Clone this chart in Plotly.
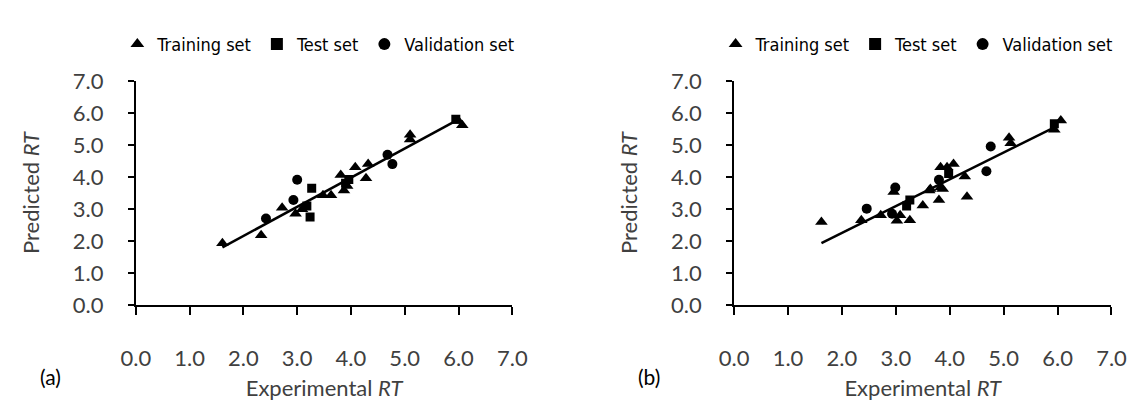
import plotly.graph_objects as go

# ---------------- data: panel (a) ----------------
a_train_x = [1.61, 2.33, 2.72, 2.97, 3.09, 3.48, 3.63, 3.81, 3.87, 3.93, 4.08, 4.28, 4.32, 5.10, 5.10, 6.07, 6.00]
a_train_y = [1.93, 2.18, 3.04, 2.85, 2.99, 3.43, 3.43, 4.06, 3.58, 3.72, 4.30, 3.96, 4.40, 5.32, 5.17, 5.61, 5.75]
a_test_x = [3.27, 3.18, 3.24, 3.96, 3.90, 5.95]
a_test_y = [3.65, 3.09, 2.75, 3.92, 3.80, 5.80]
a_val_x = [2.42, 2.93, 3.00, 4.68, 4.77]
a_val_y = [2.70, 3.28, 3.91, 4.69, 4.40]
a_trend_x = [1.61, 6.00]
a_trend_y = [1.80, 5.80]

# ---------------- data: panel (b) ----------------
b_train_x = [1.62, 2.36, 2.72, 2.96, 3.02, 3.08, 3.26, 3.50, 3.62, 3.80, 3.64, 3.83, 3.87, 3.83, 3.95, 4.07, 4.28, 4.32, 5.10, 5.13, 6.06, 5.94]
b_train_y = [2.59, 2.65, 2.80, 3.53, 2.63, 2.80, 2.65, 3.11, 3.58, 3.28, 3.62, 3.67, 3.62, 4.30, 4.30, 4.40, 4.01, 3.38, 5.22, 5.05, 5.76, 5.47]
b_test_x = [3.26, 3.20, 3.98, 5.94]
b_test_y = [3.28, 3.09, 4.11, 5.66]
b_val_x = [2.46, 2.93, 2.99, 3.80, 4.68, 4.76]
b_val_y = [3.01, 2.85, 3.67, 3.91, 4.18, 4.95]
b_trend_x = [1.62, 5.94]
b_trend_y = [1.93, 5.55]

tick_vals = [0, 1, 2, 3, 4, 5, 6, 7]
tick_text = ["0.0", "1.0", "2.0", "3.0", "4.0", "5.0", "6.0", "7.0"]
series_names = ["Training set", "Test set", "Validation set"]
panel_labels = ["(a)", "(b)"]

W, H = 1137, 410
BASE = "Lato, Carlito, Calibri, sans-serif"
TICK_FONT = dict(family=BASE, size=22, color="#404040")
TITLE_FONT = dict(family=BASE, size=22, color="#404040")
LEG_FONT = dict(family="Liberation Sans Narrow, DejaVu Sans Condensed, Arial Narrow, Liberation Sans, sans-serif",
                size=18, color="#000000")

fig = go.Figure()

panels = [
    (a_train_x, a_train_y, a_test_x, a_test_y, a_val_x, a_val_y, a_trend_x, a_trend_y, "x", "y", "legend"),
    (b_train_x, b_train_y, b_test_x, b_test_y, b_val_x, b_val_y, b_trend_x, b_trend_y, "x2", "y2", "legend2"),
]
for (tx, ty, sx, sy, vx, vy, lx, ly, xa, ya, lg) in panels:
    fig.add_trace(go.Scatter(x=lx, y=ly, mode="lines", line=dict(color="black", width=2.5),
                             xaxis=xa, yaxis=ya, showlegend=False, hoverinfo="skip"))
    fig.add_trace(go.Scatter(x=tx, y=ty, mode="markers", name=series_names[0],
                             marker=dict(symbol="triangle-up", size=11, color="black"),
                             xaxis=xa, yaxis=ya, legend=lg))
    fig.add_trace(go.Scatter(x=sx, y=sy, mode="markers", name=series_names[1],
                             marker=dict(symbol="square", size=9, color="black"),
                             xaxis=xa, yaxis=ya, legend=lg))
    fig.add_trace(go.Scatter(x=vx, y=vy, mode="markers", name=series_names[2],
                             marker=dict(symbol="circle", size=10, color="black"),
                             xaxis=xa, yaxis=ya, legend=lg))

x_domains = [[116 / W, 503 / W], [731 / W, 1119 / W]]
y_domain = [(H - 303) / H, (H - 63) / H]

axis_common = dict(range=[0, 7], tickvals=tick_vals, ticktext=tick_text, showgrid=False,
                   zeroline=False, showline=True, linecolor="black", linewidth=2,
                   ticks="outside", tickcolor="black", tickwidth=2, tickfont=TICK_FONT,
                   fixedrange=True)

def xax(dom, anchor):
    return dict(domain=dom, anchor=anchor, ticklen=8, ticklabelstandoff=25,
                title=dict(text="Experimental <i>RT</i>", font=TITLE_FONT, standoff=10),
                **axis_common)

def yax(anchor):
    return dict(domain=y_domain, anchor=anchor, ticklen=6, ticklabelstandoff=20,
                title=dict(text="Predicted <i>RT</i>", font=TITLE_FONT, standoff=27),
                **axis_common)

fig.update_layout(
    width=W, height=H, margin=dict(l=0, r=0, t=0, b=0),
    paper_bgcolor="white", plot_bgcolor="white", showlegend=True,
    xaxis=xax(x_domains[0], "y"),
    yaxis=yax("x"),
    xaxis2=xax(x_domains[1], "y2"),
    yaxis2=yax("x2"),
    legend=dict(orientation="h", x=97 / W, xanchor="left", y=1 - 24 / H, yanchor="middle",
                font=LEG_FONT, itemwidth=30, itemsizing="constant", bgcolor="rgba(0,0,0,0)"),
    legend2=dict(orientation="h", x=712 / W, xanchor="left", y=1 - 24 / H, yanchor="middle",
                 font=LEG_FONT, itemwidth=30, itemsizing="constant", bgcolor="rgba(0,0,0,0)"),
    annotations=[
        dict(text=panel_labels[0], x=15 / W, y=1 - 380 / H, xref="paper", yref="paper",
             xanchor="left", yanchor="middle", showarrow=False, font=dict(family=BASE, size=21, color="#000000")),
        dict(text=panel_labels[1], x=630 / W, y=1 - 380 / H, xref="paper", yref="paper",
             xanchor="left", yanchor="middle", showarrow=False, font=dict(family=BASE, size=21, color="#000000")),
    ],
)
fig.write_html("out.html")
